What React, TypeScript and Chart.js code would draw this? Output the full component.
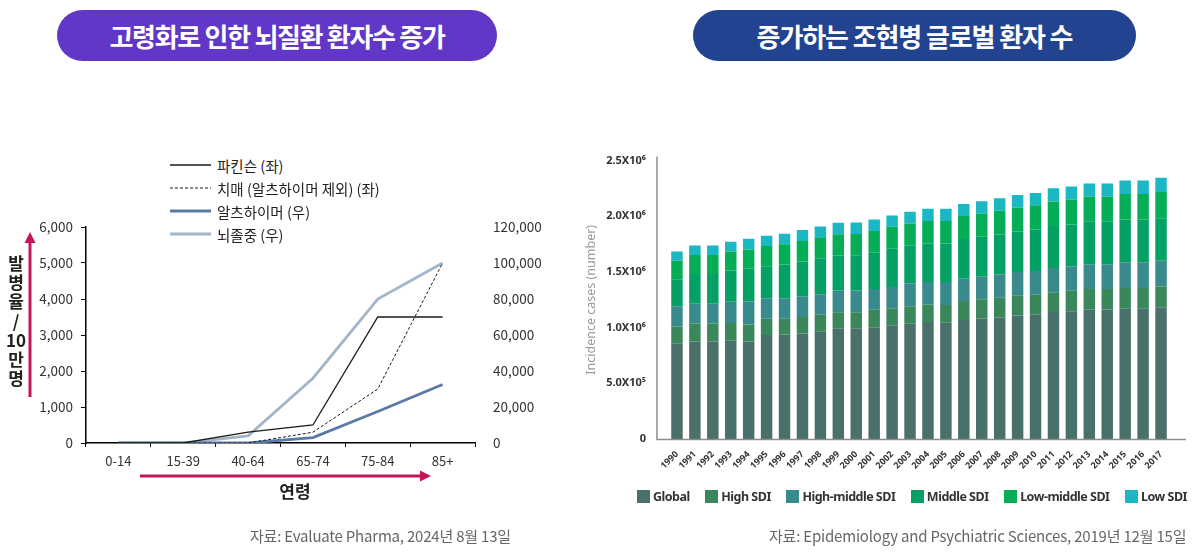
import React, { useEffect, useRef } from 'react';
import { Chart, registerables } from 'chart.js';

Chart.register(...registerables);

// ---------- Left chart data ----------
const ageGroups = ['0-14', '15-39', '40-64', '65-74', '75-84', '85+'];
const parkinson = [0, 0, 300, 500, 3500, 3500];
const dementia = [0, 0, 0, 300, 1500, 5000];
const alzheimer = [0, 0, 0, 3000, 17500, 32500];
const stroke = [0, 0, 4000, 36000, 80000, 100000];
const lineLabels = ['파킨슨 (좌)', '치매 (알츠하이머 제외) (좌)', '알츠하이머 (우)', '뇌졸중 (우)'];
const lineColors = ['#1a1a1a', '#1a1a1a', '#5a7aa6', '#a3b5c9'];
const yTitleChars = ['발', '병', '율', '/', '10', '만', '명'];

// ---------- Right chart data ----------
const years = ['1990', '1991', '1992', '1993', '1994', '1995', '1996', '1997', '1998', '1999', '2000', '2001', '2002', '2003', '2004', '2005', '2006', '2007', '2008', '2009', '2010', '2011', '2012', '2013', '2014', '2015', '2016', '2017'];
const globalCases = [860000, 875000, 876000, 883000, 875000, 933000, 939000, 948000, 963000, 989000, 989000, 998000, 1022000, 1034000, 1051000, 1045000, 1069000, 1081000, 1092000, 1110000, 1116000, 1140000, 1148000, 1163000, 1163000, 1169000, 1169000, 1184000];
const highSdi = [150000, 162000, 161000, 159000, 153000, 147000, 141000, 147000, 153000, 150000, 150000, 162000, 153000, 159000, 156000, 159000, 171000, 174000, 177000, 177000, 180000, 177000, 183000, 183000, 183000, 188000, 188000, 186000];
const highMiddleSdi = [183000, 177000, 178000, 191000, 206000, 183000, 183000, 186000, 183000, 194000, 194000, 186000, 191000, 206000, 203000, 206000, 200000, 203000, 209000, 212000, 212000, 218000, 218000, 224000, 224000, 230000, 230000, 230000];
const middleSdi = [241000, 268000, 267000, 280000, 294000, 289000, 303000, 312000, 324000, 315000, 316000, 327000, 342000, 336000, 345000, 345000, 356000, 359000, 359000, 365000, 374000, 377000, 377000, 380000, 380000, 383000, 383000, 383000];
const lowMiddleSdi = [168000, 171000, 171000, 171000, 174000, 180000, 183000, 186000, 188000, 191000, 191000, 194000, 197000, 200000, 203000, 203000, 206000, 209000, 212000, 215000, 218000, 221000, 224000, 227000, 227000, 230000, 230000, 236000];
const lowSdi = [82000, 85000, 85000, 88000, 97000, 94000, 94000, 97000, 97000, 103000, 104000, 103000, 103000, 106000, 109000, 109000, 109000, 109000, 112000, 112000, 109000, 118000, 118000, 118000, 118000, 121000, 121000, 127000];
const seriesNames = ['Global', 'High SDI', 'High-middle SDI', 'Middle SDI', 'Low-middle SDI', 'Low SDI'];
const seriesColors = ['#4a706c', '#3a875c', '#388a8c', '#04a064', '#05ad56', '#1bb7c3'];
const seriesData = [globalCases, highSdi, highMiddleSdi, middleSdi, lowMiddleSdi, lowSdi];
const yTickLabels = ['0', '5.0X10⁵', '1.0X10⁶', '1.5X10⁶', '2.0X10⁶', '2.5X10⁶'];

const KR = '"Noto Sans CJK KR", "Noto Sans", sans-serif';
const SANS = '"Noto Sans", "DejaVu Sans", sans-serif';

const axisLinesPlugin = {
  id: 'axisLines',
  afterDatasetsDraw(chart: any) {
    const { ctx, chartArea: a } = chart;
    ctx.save();
    ctx.strokeStyle = '#8c8c8c';
    ctx.lineWidth = 1.5;
    ctx.beginPath();
    ctx.moveTo(a.left - 11, a.top - 4);
    ctx.lineTo(a.left - 11, a.bottom + 0.5);
    ctx.lineTo(a.right + 16, a.bottom + 0.5);
    ctx.stroke();
    ctx.restore();
  },
};

export default function App() {
  const leftRef = useRef<HTMLCanvasElement>(null);
  const rightRef = useRef<HTMLCanvasElement>(null);

  useEffect(() => {
    const c1 = new Chart(leftRef.current!, {
      type: 'line',
      data: {
        labels: ageGroups,
        datasets: [
          { label: lineLabels[0], data: parkinson, borderColor: lineColors[0], borderWidth: 1.3, yAxisID: 'y', pointRadius: 0 },
          { label: lineLabels[1], data: dementia, borderColor: lineColors[1], borderWidth: 1, borderDash: [3, 2], yAxisID: 'y', pointRadius: 0 },
          { label: lineLabels[2], data: alzheimer, borderColor: lineColors[2], borderWidth: 2.8, yAxisID: 'y1', pointRadius: 0 },
          { label: lineLabels[3], data: stroke, borderColor: lineColors[3], borderWidth: 2.8, yAxisID: 'y1', pointRadius: 0 },
        ],
      },
      options: {
        responsive: false,
        animation: false,
        layout: { padding: { top: 27, left: 0, right: 0, bottom: 0 } },
        plugins: { legend: { display: false }, tooltip: { enabled: false } },
        scales: {
          x: {
            offset: true,
            grid: { display: true, drawOnChartArea: false, offset: true, tickLength: 4, color: '#000', lineWidth: 1 },
            border: { display: true, color: '#000', width: 1.5 },
            ticks: { color: '#333', font: { family: KR, size: 13 }, padding: 6 },
            afterFit: (s: any) => { s.height = 77; },
          },
          y: {
            position: 'left',
            min: 0,
            max: 6000,
            ticks: { stepSize: 1000, color: '#333', font: { family: KR, size: 13.5 }, padding: 8, callback: (v: any) => Number(v).toLocaleString('en-US') },
            grid: { drawOnChartArea: false, tickLength: 5, color: '#000' },
            border: { display: true, color: '#000', width: 1.5 },
            afterFit: (s: any) => { s.width = 86; },
          },
          y1: {
            position: 'right',
            min: 0,
            max: 120000,
            ticks: { stepSize: 20000, color: '#333', font: { family: KR, size: 13.5 }, padding: 10, callback: (v: any) => Number(v).toLocaleString('en-US') },
            grid: { display: false },
            border: { display: false },
            afterFit: (s: any) => { s.width = 85; },
          },
        },
      },
    } as any);

    const c2 = new Chart(rightRef.current!, {
      type: 'bar',
      data: {
        labels: years,
        datasets: seriesNames.map((n, i) => ({
          label: n,
          data: seriesData[i],
          backgroundColor: seriesColors[i],
          categoryPercentage: 0.8,
          barPercentage: 0.8,
          borderWidth: 0,
        })),
      },
      options: {
        responsive: false,
        animation: false,
        layout: { padding: { top: 16, right: 25, left: 0, bottom: 0 } },
        plugins: { legend: { display: false }, tooltip: { enabled: false } },
        scales: {
          x: {
            stacked: true,
            grid: { display: false },
            border: { display: false },
            ticks: { autoSkip: false, maxRotation: 45, minRotation: 45, color: '#333', font: { family: SANS, size: 9, weight: 'bold' }, padding: 2 },
            afterFit: (s: any) => { s.height = 41; },
          },
          y: {
            stacked: true,
            min: 0,
            max: 2500000,
            ticks: { stepSize: 500000, color: '#333', font: { family: SANS, size: 11, weight: 'bold' }, padding: 14, callback: (v: any) => yTickLabels[Math.round(Number(v) / 500000)] },
            grid: { display: false },
            border: { display: false },
            title: { display: true, text: 'Incidence cases (number)', color: '#9a9a9a', font: { family: SANS, size: 12.5 }, padding: { top: 4, bottom: 0 } },
            afterFit: (s: any) => { s.width = 88; },
          },
        },
      },
      plugins: [axisLinesPlugin],
    } as any);

    return () => {
      c1.destroy();
      c2.destroy();
    };
  }, []);

  const abs = (o: any) => ({ position: 'absolute' as const, ...o });
  const legendRowsY = [165, 188, 211, 234];

  return (
    <div style={{ position: 'absolute', left: 0, top: 0, width: 1200, height: 558, background: '#fff', fontFamily: KR, overflow: 'hidden' }}>
      {/* Titles */}
      <div style={abs({ left: 57, top: 10, width: 440, height: 51, borderRadius: 26, background: '#6037c6', color: '#fff', display: 'flex', alignItems: 'center', justifyContent: 'center', fontSize: 26, fontWeight: 700, letterSpacing: -1.3 })}>
        고령화로 인한 뇌질환 환자수 증가
      </div>
      <div style={abs({ left: 693, top: 10, width: 443, height: 51, borderRadius: 26, background: '#22438f', color: '#fff', display: 'flex', alignItems: 'center', justifyContent: 'center', fontSize: 26, fontWeight: 700, letterSpacing: -1.1 })}>
        증가하는 조현병 글로벌 환자 수
      </div>

      {/* Left chart */}
      <div style={abs({ left: 0, top: 200, width: 560, height: 320 })}>
        <canvas ref={leftRef} width={560} height={320} style={{ width: 560, height: 320, display: 'block' }} />
      </div>

      {/* Left legend */}
      {lineLabels.map((lab, i) => (
        <div key={lab} style={abs({ left: 170, top: legendRowsY[i] - 10, height: 20, display: 'flex', alignItems: 'center' })}>
          <svg width={42} height={20} style={{ display: 'block' }}>
            <line x1={0} y1={10} x2={41} y2={10} stroke={lineColors[i]} strokeWidth={i < 2 ? (i === 0 ? 1.3 : 1) : 2.8} strokeDasharray={i === 1 ? '3 2' : undefined} />
          </svg>
          <span style={{ marginLeft: 5, fontSize: 14.5, color: '#222', whiteSpace: 'nowrap' }}>{lab}</span>
        </div>
      ))}

      {/* Left y title */}
      <div style={abs({ left: 4, top: 253, width: 24, textAlign: 'center', fontSize: 17, fontWeight: 700, color: '#222', lineHeight: '19.2px' })}>
        {yTitleChars.map((c) => (
          <div key={c}>{c}</div>
        ))}
      </div>
      {/* x title */}
      <div style={abs({ left: 265, top: 480, width: 60, textAlign: 'center', fontSize: 17, fontWeight: 700, color: '#222', lineHeight: '22px' })}>연령</div>

      {/* Arrows */}
      <svg width={1200} height={558} style={abs({ left: 0, top: 0, pointerEvents: 'none' })}>
        <line x1={30} y1={397} x2={30} y2={240} stroke="#c4145a" strokeWidth={3} />
        <polygon points="24.5,243 35.5,243 30,232" fill="#c4145a" />
        <line x1={140} y1={476} x2={421} y2={476} stroke="#c4145a" strokeWidth={3} />
        <polygon points="420,470.5 420,481.5 431,476" fill="#c4145a" />
      </svg>

      {/* Right chart */}
      <div style={abs({ left: 580, top: 140, width: 615, height: 340 })}>
        <canvas ref={rightRef} width={615} height={340} style={{ width: 615, height: 340, display: 'block' }} />
      </div>

      {/* Right legend */}
      <div style={abs({ left: 637, top: 487, width: 550, height: 18, display: 'flex', alignItems: 'center', justifyContent: 'space-between', whiteSpace: 'nowrap' })}>
        {seriesNames.map((n, i) => (
          <div key={n} style={{ display: 'flex', alignItems: 'center' }}>
            <div style={{ width: 13, height: 13, background: seriesColors[i], marginRight: 3 }} />
            <span style={{ fontFamily: SANS, fontWeight: 700, fontSize: 12.5, color: '#333', letterSpacing: -0.5 }}>{n}</span>
          </div>
        ))}
      </div>

      {/* Sources */}
      <div style={abs({ left: 250, top: 526, fontSize: 15, color: '#666', lineHeight: '20px', whiteSpace: 'nowrap', letterSpacing: -0.2 })}>
        자료: Evaluate Pharma, 2024년 8월 13일
      </div>
      <div style={abs({ left: 769, top: 526, fontSize: 15, color: '#666', lineHeight: '20px', whiteSpace: 'nowrap', letterSpacing: -0.2 })}>
        자료: Epidemiology and Psychiatric Sciences, 2019년 12월 15일
      </div>
    </div>
  );
}
